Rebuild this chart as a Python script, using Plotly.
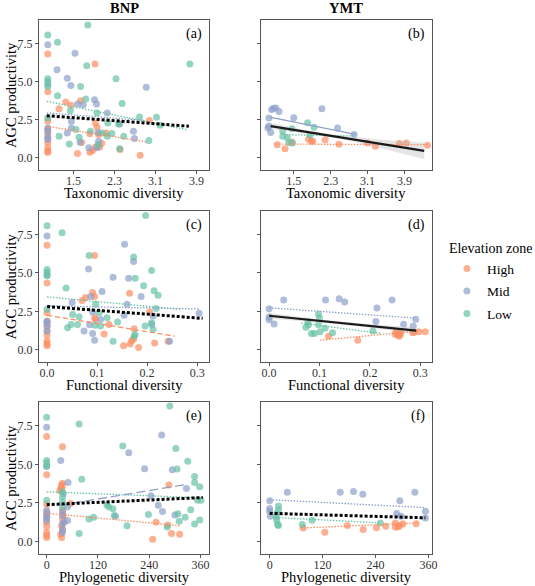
import plotly.graph_objects as go
from plotly.subplots import make_subplots

HIGH = "#FC8D62"
MID = "#8DA0CB"
LOW = "#66C2A5"
FONT = "Liberation Serif, Times New Roman, serif"

# ---------- BNP, taxonomic diversity (a)
a_high_x = [1.0, 1.0, 1.0, 1.0, 1.0, 1.0, 1.0, 1.0, 1.0, 1.0, 1.92, 1.22, 1.35, 1.45, 1.64, 1.93, 1.96,
            1.99, 1.82, 2.14, 1.58, 1.82, 1.87, 1.93, 2.01, 2.41, 2.8, 2.98, 1.66, 2.05]
a_high_y = [6.8, 4.33, 1.85, 1.62, 1.3, 0.98, 0.65, 0.45, 0.35, 2.4, 6.14, 3.22, 3.66, 3.44, 3.74, 2.28, 2.0,
            1.52, 1.57, 1.63, 0.28, 0.37, 0.48, 0.7, 0.7, 0.54, 0.17, 2.44, 1.0, 0.95]
a_mid_x = [1.0, 1.0, 1.0, 1.0, 1.0, 1.0, 1.53, 1.18, 1.38, 1.45, 2.92, 1.91, 1.95, 1.58, 1.69, 2.16, 1.46,
           1.46, 1.38, 1.63, 1.8, 1.96, 1.99, 2.4, 2.67, 2.69, 1.98]
a_mid_y = [7.4, 4.83, 1.96, 1.41, 1.2, 1.75, 6.85, 5.77, 5.22, 4.74, 4.63, 3.81, 3.52, 3.52, 3.48, 2.94, 2.39,
           1.96, 1.63, 1.02, 0.65, 0.65, 1.09, 2.22, 1.74, 1.26, 1.65]
a_low_x = [1.0, 1.0, 1.0, 1.0, 1.0, 1.19, 1.78, 1.76, 2.33, 1.64, 1.19, 1.74, 1.44, 2.45, 2.79, 3.12, 3.77,
           1.96, 2.17, 2.38, 1.22, 1.42, 1.61, 1.55, 1.83, 2.06, 2.16, 2.48, 2.4, 2.97, 3.19, 1.98, 2.25]
a_low_y = [8.05, 5.18, 5.0, 4.68, 2.61, 7.57, 8.7, 6.03, 5.18, 4.68, 4.07, 3.85, 3.09, 3.55, 2.68, 2.65, 6.14,
           2.94, 2.28, 2.22, 1.41, 0.91, 1.35, 1.85, 1.74, 1.63, 1.41, 1.41, 0.59, 1.13, 2.13, 0.85, 1.6]

# ---------- YMT, taxonomic diversity (b)
b_high_x = [1.14, 1.31, 1.46, 1.82, 1.88, 1.91, 2.18, 2.48, 3.1, 3.27, 3.79, 3.94, 4.4]
b_high_y = [0.86, 0.6, 1.03, 1.21, 1.08, 1.08, 1.19, 0.88, 0.97, 0.75, 0.93, 0.97, 0.82]
b_mid_x = [0.96, 0.96, 1.0, 1.02, 1.11, 1.18, 1.5, 2.11, 2.45, 2.81, 0.94, 1.06]
b_mid_y = [2.6, 2.08, 1.65, 3.17, 3.26, 3.04, 2.63, 3.22, 1.95, 1.52, 1.95, 3.24]
b_low_x = [1.26, 1.26, 1.36, 1.39, 1.47, 1.8, 1.94, 1.85, 1.46]
b_low_y = [1.75, 1.41, 1.32, 0.99, 0.97, 2.3, 2.0, 1.47, 1.91]

# ---------- BNP, functional diversity (c)
c_high_x = [0, 0, 0, 0, 0, 0, 0, 0, 0, 0, 0.095, 0.077, 0.091, 0.095, 0.165, 0.095, 0.097, 0.124, 0.114,
            0.174, 0.153, 0.166, 0.169, 0.173, 0.183, 0.215, 0.242, 0.205, 0.07]
c_high_y = [6.8, 4.34, 1.86, 1.54, 1.21, 0.92, 0.55, 0.37, 0.26, 2.4, 6.14, 3.4, 3.73, 3.46, 3.68, 2.08, 1.97,
            1.64, 1.03, 1.36, 0.26, 0.37, 0.59, 0.7, 0.15, 0.44, 0.55, 2.45, 3.2]
c_mid_x = [0, 0, 0, 0, 0, 0, 0.155, 0.173, 0.083, 0.132, 0.163, 0.188, 0.11, 0.087, 0.05, 0.16, 0.154,
           0.091, 0.107, 0.074, 0.091, 0.095, 0.212, 0.245, 0.304, 0.209, 0.085]
c_mid_y = [7.41, 4.87, 1.86, 1.54, 1.2, 1.75, 6.86, 5.75, 5.26, 4.71, 4.65, 3.46, 3.79, 3.46, 3.07, 2.96, 2.24,
           2.46, 1.97, 1.21, 1.05, 0.61, 2.19, 0.55, 2.37, 1.64, 1.62]
c_low_x = [0, 0, 0, 0, 0, 0.03, 0.197, 0.084, 0.173, 0.209, 0.176, 0.038, 0.193, 0.214, 0.222, 0.097, 0.218,
           0.051, 0.064, 0.048, 0.041, 0.061, 0.104, 0.12, 0.107, 0.141, 0.132, 0.176, 0.174, 0.196, 0.209,
           0.212, 0.096]
c_low_y = [8.07, 5.22, 5.04, 4.82, 2.63, 7.61, 8.73, 6.14, 6.03, 5.15, 4.65, 4.01, 4.17, 3.84, 3.55, 2.96, 2.68,
           2.3, 2.15, 1.64, 1.43, 1.64, 2.41, 2.08, 1.54, 1.8, 0.55, 0.99, 0.88, 1.54, 1.75, 1.32, 1.6]

# ---------- YMT, functional diversity (d)
d_high_x = [0.118, 0.176, 0.252, 0.255, 0.258, 0.261, 0.288, 0.297, 0.31, 0.25, 0.256, 0.285, 0.26]
d_high_y = [0.88, 0.62, 1.17, 1.06, 0.88, 1.02, 1.13, 1.17, 1.17, 1.0, 0.95, 1.1, 1.12]
d_mid_x = [0.0, 0.0, 0.0, 0.01, 0.029, 0.112, 0.139, 0.15, 0.214, 0.212, 0.244, 0.267, 0.286, 0.291]
d_mid_y = [2.66, 2.13, 1.95, 1.68, 3.23, 3.23, 3.32, 3.1, 2.72, 1.84, 3.23, 1.66, 1.55, 1.99]
d_low_x = [0.098, 0.1, 0.077, 0.078, 0.073, 0.084, 0.09, 0.101, 0.098, 0.111, 0.126, 0.206]
d_low_y = [2.33, 2.06, 1.84, 1.62, 1.46, 1.06, 1.06, 1.17, 1.62, 1.4, 1.1, 1.22]

# ---------- BNP, phylogenetic diversity (e)
e_high_x = [0, 0, 0, 0, 0, 0, 0, 0, 0, 0, 37, 35, 37, 33, 31, 36, 37, 39, 35, 37, 33, 35, 37, 56, 286, 256,
            248, 283, 292, 311]
e_high_y = [6.8, 4.32, 1.91, 1.58, 1.25, 0.96, 0.59, 0.42, 0.26, 2.4, 6.14, 3.66, 3.77, 3.44, 3.29, 3.51, 2.02,
            1.69, 1.03, 0.81, 0.48, 0.26, 1.45, 2.46, 3.66, 1.25, 0.15, 1.07, 0.53, 0.48]
e_mid_x = [0, 0, 0, 0, 0, 0, 269, 192, 33, 229, 294, 50, 327, 244, 261, 271, 300, 39, 49, 37, 37, 37, 37, 37,
           41, 49, 161]
e_mid_y = [7.39, 4.87, 2.02, 1.58, 1.36, 1.75, 6.89, 5.75, 5.24, 4.71, 4.65, 3.82, 3.44, 2.96, 2.35, 1.95, 1.73,
           3.11, 2.24, 1.91, 1.69, 1.14, 0.75, 0.59, 1.25, 1.36, 1.64]
e_low_x = [0, 0, 0, 0, 0, 76, 288, 178, 302, 330, 305, 82, 346, 346, 358, 37, 37, 37, 37, 141, 145, 155, 99,
           110, 158, 188, 238, 307, 310, 324, 337, 346, 358, 361, 353, 76, 282]
e_low_y = [8.05, 5.24, 5.09, 4.87, 2.68, 7.61, 8.77, 6.18, 6.03, 5.2, 4.69, 4.04, 4.21, 3.82, 3.55, 3.22, 2.89,
           2.57, 2.24, 2.39, 2.24, 2.13, 1.47, 1.58, 1.69, 1.03, 1.75, 1.8, 1.32, 1.58, 2.06, 1.14, 1.4, 2.68,
           2.68, 0.53, 0.95]

# ---------- YMT, phylogenetic diversity (f)
f_high_x = [76, 125, 176, 212, 242, 263, 285, 285, 291, 295, 302, 332]
f_high_y = [0.88, 0.61, 1.05, 0.79, 0.9, 0.99, 1.2, 0.94, 0.94, 1.05, 1.16, 1.16]
f_mid_x = [0, 0, 0, 1.5, 40, 160, 190, 211, 288, 295, 298, 329, 353, 353]
f_mid_y = [2.65, 2.15, 1.97, 1.64, 3.2, 3.2, 3.25, 3.07, 1.82, 2.65, 1.64, 3.2, 1.97, 1.53]
f_low_x = [20, 20, 16, 15, 16, 18, 20, 74, 96, 251]
f_low_y = [2.3, 2.04, 1.82, 1.6, 1.38, 1.1, 1.05, 1.1, 1.38, 1.2]

# ---------- fitted lines (start/end)
a_fit = {"low": ([0.98, 3.7], [3.7, 1.85]), "mid": ([0.98, 2.9], [2.94, 2.45]),
         "high": ([0.98, 2.93], [2.07, 1.04]), "all": ([0.98, 3.75], [2.76, 2.07])}
b_fit = {"mid": ([0.98, 2.84], [2.67, 1.54]), "low": ([1.27, 2.82], [1.52, 1.43]),
         "high": ([1.11, 4.43], [0.9, 0.86]), "all": ([1.0, 4.33], [2.08, 0.45])}
c_fit = {"low": ([0, 0.265], [3.44, 2.63]), "mid": ([0, 0.305], [2.85, 2.65]),
         "high": ([0, 0.255], [2.24, 0.88]), "all": ([0, 0.311], [2.81, 2.04])}
d_fit = {"mid": ([0, 0.29], [2.73, 2.06]), "low": ([0.064, 0.222], [1.73, 1.06]),
         "high": ([0.101, 0.304], [0.62, 1.24]), "all": ([0, 0.292], [2.21, 1.24])}
e_fit = {"low": ([0, 365], [3.22, 2.83]), "mid": ([30, 327], [2.35, 3.7]),
         "high": ([0, 311], [1.84, 1.03]), "all": ([0, 365], [2.39, 2.85])}
f_fit = {"mid": ([0, 353], [2.71, 2.2]), "low": ([7.5, 252], [1.57, 1.21]),
         "high": ([72, 334], [0.88, 1.21]), "all": ([0, 353], [1.83, 1.54])}

# confidence bands of the overall fit in (b) and (d)
b_band_x = [1.0, 1.75, 2.5, 3.4, 4.33]
b_band_hi = [2.28, 1.83, 1.45, 1.19, 1.0]
b_band_lo = [1.88, 1.59, 1.25, 0.63, -0.1]
d_band_x = [0, 0.075, 0.15, 0.22, 0.292]
d_band_hi = [2.41, 2.08, 1.81, 1.61, 1.46]
d_band_lo = [2.01, 1.84, 1.61, 1.35, 1.02]

x_ticks = [[1.5, 2.3, 3.1, 3.9], [0, 0.1, 0.2, 0.3], [0, 120, 240, 360]]
x_ticktext = [["1.5", "2.3", "3.1", "3.9"], ["0.0", "0.1", "0.2", "0.3"], ["0", "120", "240", "360"]]
x_titles = ["Taxonomic diversity", "Functional diversity", "Phylogenetic diversity"]
y_ticks = [0, 2.5, 5, 7.5]
y_ticktext = ["0.0", "2.5", "5.0", "7.5"]

colors = {"high": HIGH, "mid": MID, "low": LOW}
names = {"high": "High", "mid": "Mid", "low": "Low"}

thin_dot = "1.5px,1.5px"
styles = {
    "a": {"low": thin_dot, "mid": thin_dot, "high": thin_dot, "all": "dot"},
    "b": {"low": thin_dot, "mid": "solid", "high": thin_dot, "all": "solid"},
    "c": {"low": thin_dot, "mid": thin_dot, "high": "5px,3px", "all": "dot"},
    "d": {"low": thin_dot, "mid": thin_dot, "high": thin_dot, "all": "solid"},
    "e": {"low": thin_dot, "mid": "9px,4px", "high": thin_dot, "all": "dot"},
    "f": {"low": thin_dot, "mid": thin_dot, "high": thin_dot, "all": "dot"},
}

panels = [
    ("a", 1, 1, {"high": (a_high_x, a_high_y), "mid": (a_mid_x, a_mid_y), "low": (a_low_x, a_low_y)}, a_fit),
    ("b", 1, 2, {"high": (b_high_x, b_high_y), "mid": (b_mid_x, b_mid_y), "low": (b_low_x, b_low_y)}, b_fit),
    ("c", 2, 1, {"high": (c_high_x, c_high_y), "mid": (c_mid_x, c_mid_y), "low": (c_low_x, c_low_y)}, c_fit),
    ("d", 2, 2, {"high": (d_high_x, d_high_y), "mid": (d_mid_x, d_mid_y), "low": (d_low_x, d_low_y)}, d_fit),
    ("e", 3, 1, {"high": (e_high_x, e_high_y), "mid": (e_mid_x, e_mid_y), "low": (e_low_x, e_low_y)}, e_fit),
    ("f", 3, 2, {"high": (f_high_x, f_high_y), "mid": (f_mid_x, f_mid_y), "low": (f_low_x, f_low_y)}, f_fit),
]
bands = {"b": (b_band_x, b_band_hi, b_band_lo), "d": (d_band_x, d_band_hi, d_band_lo)}

x_ranges = {"a": [0.83, 4.145], "b": [0.79, 4.49], "c": [-0.016, 0.324],
            "d": [-0.016, 0.3225], "e": [-17.8, 380], "f": [-19.5, 367]}

W, H = 535, 586
col_px = [(39.5, 211.5), (264, 436.5)]
row_px = [(20, 170), (211, 362), (402, 554)]

fig = make_subplots(rows=3, cols=2)

for label, row, col, pts, fits in panels:
    for g in ["high", "mid", "low"]:
        x, y = pts[g]
        fig.add_trace(go.Scatter(
            x=x, y=y, mode="markers", name=names[g], legendgroup=g,
            showlegend=(label == "a"),
            marker=dict(color=colors[g], size=7, opacity=0.7, line=dict(width=0)),
        ), row=row, col=col)
    if label in bands:
        bx, bhi, blo = bands[label]
        fig.add_trace(go.Scatter(x=bx + bx[::-1], y=bhi + blo[::-1], fill="toself", mode="none",
                                 fillcolor="rgba(180,180,180,0.35)", showlegend=False,
                                 hoverinfo="skip"), row=row, col=col)
    for g in ["high", "low", "mid"]:
        fx, fy = fits[g]
        fig.add_trace(go.Scatter(x=fx, y=fy, mode="lines", showlegend=False,
                                 line=dict(color=colors[g], width=1.3, dash=styles[label][g])),
                      row=row, col=col)
    fx, fy = fits["all"]
    solid = styles[label]["all"] == "solid"
    fig.add_trace(go.Scatter(x=fx, y=fy, mode="lines", showlegend=False,
                             line=dict(color="#1a1a1a" if solid else "black",
                                       width=2.2 if solid else 3,
                                       dash="solid" if solid else "3px,2px")),
                  row=row, col=col)

axis_common = dict(showline=True, mirror=True, linecolor="#555555", linewidth=1.1,
                   ticks="outside", ticklen=3, tickcolor="#555555", tickwidth=1,
                   showgrid=False, zeroline=False,
                   tickfont=dict(family=FONT, size=12, color="#333333"))

annotations = []
for i, (label, row, col, pts, fits) in enumerate(panels):
    n = "" if i == 0 else str(i + 1)
    x0, x1 = col_px[col - 1]
    y0, y1 = row_px[row - 1]
    fig.layout["xaxis" + n].update(
        domain=[x0 / W, x1 / W], range=x_ranges[label], ticklabelstandoff=-3,
        tickvals=x_ticks[row - 1], ticktext=x_ticktext[row - 1], **axis_common)
    fig.layout["yaxis" + n].update(
        domain=[1 - y1 / H, 1 - y0 / H], range=[-0.8, 9.03],
        tickvals=y_ticks, ticktext=y_ticktext, showticklabels=(col == 1), **axis_common)
    annotations.append(dict(text="(" + label + ")", xref="x" + n + " domain", yref="y" + n + " domain",
                            x=1, y=1, xshift=-5, yshift=-14, xanchor="right", yanchor="middle",
                            showarrow=False, font=dict(family=FONT, size=14, color="black")))
    annotations.append(dict(text=x_titles[row - 1], xref="paper", yref="paper",
                            x=(x0 + x1) / 2 / W, y=1 - (y1 + 23) / H, xanchor="center",
                            yanchor="middle", showarrow=False,
                            font=dict(family=FONT, size=14.5, color="black")))
    if col == 1:
        annotations.append(dict(text="AGC productivity", xref="paper", yref="paper",
                                x=11 / W, y=1 - (y0 + y1) / 2 / H, textangle=-90,
                                xanchor="center", yanchor="middle", showarrow=False,
                                font=dict(family=FONT, size=14.5, color="black")))

for title, (x0, x1) in zip(["BNP", "YMT"], col_px):
    annotations.append(dict(text="<b>" + title + "</b>", xref="paper", yref="paper",
                            x=(x0 + x1) / 2 / W, y=1 - 8 / H, xanchor="center", yanchor="middle",
                            showarrow=False, font=dict(family=FONT, size=14.5, color="black")))

fig.update_layout(
    width=W, height=H, margin=dict(l=0, r=0, t=0, b=0),
    paper_bgcolor="white", plot_bgcolor="white",
    annotations=annotations,
    legend=dict(title=dict(text="Elevation zone", font=dict(family=FONT, size=14, color="black")),
                x=452 / W, y=1 - 235 / H, xanchor="left", yanchor="top",
                font=dict(family=FONT, size=13.5, color="black"),
                tracegroupgap=2, bgcolor="rgba(0,0,0,0)"),
)

# drop the page's default body margin so the figure sits at the window's corner
fig.write_html("out.html", config={"displayModeBar": False},
               post_script="document.body.style.margin = '0';")
